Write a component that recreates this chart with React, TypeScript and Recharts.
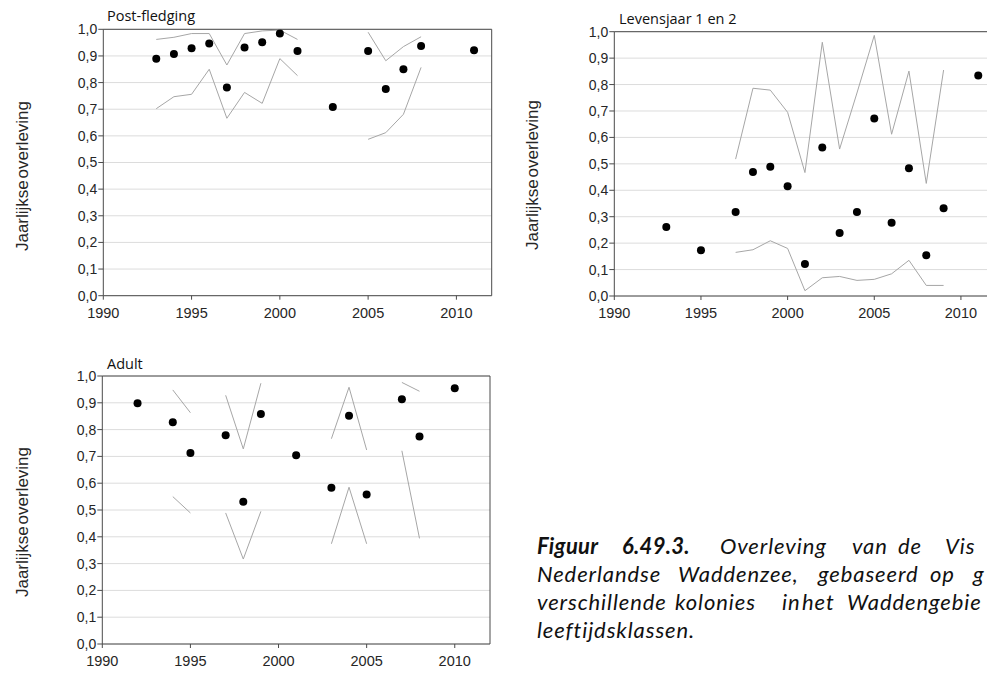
import React from 'react';
import { ComposedChart, Line, Scatter, XAxis, YAxis, CartesianGrid, ReferenceLine } from 'recharts';

// ---- Post-fledging ----
const pfEstYears = [1993, 1994, 1995, 1996, 1997, 1998, 1999, 2000, 2001, 2003, 2005, 2006, 2007, 2008, 2011];
const pfEst = [0.889, 0.907, 0.929, 0.947, 0.782, 0.932, 0.951, 0.984, 0.919, 0.708, 0.919, 0.776, 0.85, 0.937, 0.921];
const pfCiYears = [1993, 1994, 1995, 1996, 1997, 1998, 1999, 2000, 2001, 2003, 2005, 2006, 2007, 2008];
const pfUpper = [0.962, 0.97, 0.984, 0.984, 0.866, 0.984, 0.994, 0.997, 0.962, null, 0.989, 0.882, 0.935, 0.972];
const pfLower = [0.702, 0.747, 0.756, 0.85, 0.666, 0.763, 0.722, 0.89, 0.826, null, 0.587, 0.612, 0.681, 0.857];

// ---- Levensjaar 1 en 2 ----
const lvEstYears = [1993, 1995, 1997, 1998, 1999, 2000, 2001, 2002, 2003, 2004, 2005, 2006, 2007, 2008, 2009, 2011];
const lvEst = [0.261, 0.173, 0.318, 0.469, 0.489, 0.415, 0.121, 0.562, 0.238, 0.318, 0.672, 0.277, 0.483, 0.154, 0.332, 0.834];
const lvCiYears = [1997, 1998, 1999, 2000, 2001, 2002, 2003, 2004, 2005, 2006, 2007, 2008, 2009];
const lvUpper = [0.518, 0.786, 0.779, 0.695, 0.467, 0.96, 0.556, 0.768, 0.986, 0.612, 0.851, 0.426, 0.855];
const lvLower = [0.165, 0.175, 0.209, 0.18, 0.02, 0.069, 0.074, 0.059, 0.063, 0.084, 0.135, 0.04, 0.04];

// ---- Adult ----
const adEstYears = [1992, 1994, 1995, 1997, 1998, 1999, 2001, 2003, 2004, 2005, 2007, 2008, 2010];
const adEst = [0.898, 0.827, 0.713, 0.779, 0.531, 0.858, 0.704, 0.583, 0.852, 0.558, 0.913, 0.774, 0.954];
const adCiYears = [1994, 1995, 1996, 1997, 1998, 1999, 2000, 2003, 2004, 2005, 2006, 2007, 2008];
const adUpper = [0.948, 0.863, null, 0.928, 0.728, 0.973, null, 0.766, 0.958, 0.724, null, 0.976, 0.943];
const adLower = [0.55, 0.489, null, 0.489, 0.317, 0.495, null, 0.374, 0.585, 0.374, null, 0.721, 0.394];

const xTicks = [1990, 1995, 2000, 2005, 2010];
const yTicks = [0, 0.1, 0.2, 0.3, 0.4, 0.5, 0.6, 0.7, 0.8, 0.9, 1.0];
const yAxisTitle = 'Jaarlijkse overleving';

const AXIS = '#4a4a4a';
const TXT = '#262626';
const CI = '#a6a6a6';
const GRID = '#dcdcdc';

const renderDot = (p: any) => <circle cx={p.cx} cy={p.cy} r={4} fill="#000" />;

type PanelProps = {
  left: number; top: number; width: number; height: number;
  mTop: number; mRight: number; yw: number; xh: number;
  estYears: number[]; est: number[]; ciYears: number[]; upper: (number | null)[]; lower: (number | null)[];
};

const Panel = (p: PanelProps) => {
  const estData = p.estYears.map((x, i) => ({ x, y: p.est[i] }));
  const ciData = p.ciYears.map((x, i) => ({ x, up: p.upper[i], lo: p.lower[i] }));
  return (
    <div style={{ position: 'absolute', left: p.left, top: p.top }}>
      <ComposedChart width={p.width} height={p.height} margin={{ top: p.mTop, right: p.mRight, left: 0, bottom: 0 }}>
        <CartesianGrid vertical={false} stroke={GRID} strokeWidth={1} />
        <XAxis
          type="number"
          dataKey="x"
          domain={[1990, 2012]}
          ticks={xTicks}
          interval={0}
          height={p.xh}
          stroke={AXIS}
          tickSize={4}
          tickMargin={8}
          tick={{ fill: TXT, fontSize: 14.5, fontFamily: 'Liberation Sans, Arial, sans-serif' }}
          allowDataOverflow
        />
        <YAxis
          type="number"
          domain={[0, 1]}
          ticks={yTicks}
          interval={0}
          width={p.yw}
          stroke={AXIS}
          tickSize={5}
          tickMargin={1}
          tickFormatter={(v: number) => v.toFixed(1).replace('.', ',')}
          tick={{ fill: TXT, fontSize: 14, fontFamily: 'Liberation Sans, Arial, sans-serif' }}
          allowDataOverflow
        />
        <ReferenceLine y={1} stroke={AXIS} strokeWidth={1} ifOverflow="visible" />
        <ReferenceLine x={2012} stroke={AXIS} strokeWidth={1} ifOverflow="visible" />
        <Line data={ciData} dataKey="up" type="linear" stroke={CI} strokeWidth={1} dot={false} activeDot={false} connectNulls={false} isAnimationActive={false} />
        <Line data={ciData} dataKey="lo" type="linear" stroke={CI} strokeWidth={1} dot={false} activeDot={false} connectNulls={false} isAnimationActive={false} />
        <Scatter data={estData} dataKey="y" shape={renderDot} isAnimationActive={false} />
      </ComposedChart>
    </div>
  );
};

const Title = ({ left, cy, text }: { left: number; cy: number; text: string }) => (
  <div style={{ position: 'absolute', left, top: cy - 10, fontSize: 14.5, lineHeight: '20px', fontFamily: '"Open Sans", sans-serif', color: '#111', whiteSpace: 'nowrap' }}>{text}</div>
);

const YTitle = ({ cx, cy }: { cx: number; cy: number }) => (
  <div style={{ position: 'absolute', left: cx, top: cy, transform: 'translate(-50%, -50%) rotate(-90deg)', fontSize: 17, lineHeight: '20px', fontFamily: 'Liberation Sans, Arial, sans-serif', color: TXT, whiteSpace: 'nowrap', wordSpacing: -3 }}>{yAxisTitle}</div>
);

const captionWords: { t: string; x: number; line: number; bold?: boolean }[] = [
  { t: 'Figuur', x: 537, line: 0, bold: true },
  { t: '6.49.3.', x: 622, line: 0, bold: true },
  { t: 'Overleving', x: 720, line: 0 },
  { t: 'van', x: 852, line: 0 },
  { t: 'de', x: 898, line: 0 },
  { t: 'Vis', x: 945, line: 0 },
  { t: 'Nederlandse', x: 537, line: 1 },
  { t: 'Waddenzee,', x: 678, line: 1 },
  { t: 'gebaseerd', x: 818, line: 1 },
  { t: 'op', x: 930, line: 1 },
  { t: 'g', x: 973, line: 1 },
  { t: 'verschillende', x: 537, line: 2 },
  { t: 'kolonies', x: 675, line: 2 },
  { t: 'in', x: 782, line: 2 },
  { t: 'het', x: 802, line: 2 },
  { t: 'Waddengebie', x: 847, line: 2 },
  { t: 'leeftijdsklassen.', x: 537, line: 3 },
];
const captionLineY = [547, 575, 603, 631];

export default function App() {
  return (
    <div style={{ position: 'fixed', left: 0, top: 0, width: 987, height: 673, overflow: 'hidden', background: '#fff' }}>
      <Panel left={0} top={0} width={500} height={320} mTop={29.3} mRight={8.3} yw={103.3} xh={24.3}
        estYears={pfEstYears} est={pfEst} ciYears={pfCiYears} upper={pfUpper} lower={pfLower} />
      <Panel left={510} top={0} width={500} height={320} mTop={31.7} mRight={14.4} yw={104.3} xh={24}
        estYears={lvEstYears} est={lvEst} ciYears={lvCiYears} upper={lvUpper} lower={lvLower} />
      <Panel left={0} top={340} width={500} height={330} mTop={36} mRight={10} yw={102.3} xh={26}
        estYears={adEstYears} est={adEst} ciYears={adCiYears} upper={adUpper} lower={adLower} />
      <Title left={107} cy={16} text="Post-fledging" />
      <Title left={619} cy={19} text="Levensjaar 1 en 2" />
      <Title left={107} cy={364} text="Adult" />
      <YTitle cx={23} cy={176} />
      <YTitle cx={533} cy={175} />
      <YTitle cx={23} cy={522} />
      {captionWords.map((w, i) => (
        <div key={i} style={{ position: 'absolute', left: w.x, top: captionLineY[w.line] - 13, fontSize: 22, lineHeight: '24px', letterSpacing: w.bold ? 0.3 : 0.9, fontFamily: 'Lato, sans-serif', fontStyle: 'italic', fontWeight: w.bold ? 700 : 400, color: '#111', whiteSpace: 'nowrap' }}>{w.t}</div>
      ))}
    </div>
  );
}
